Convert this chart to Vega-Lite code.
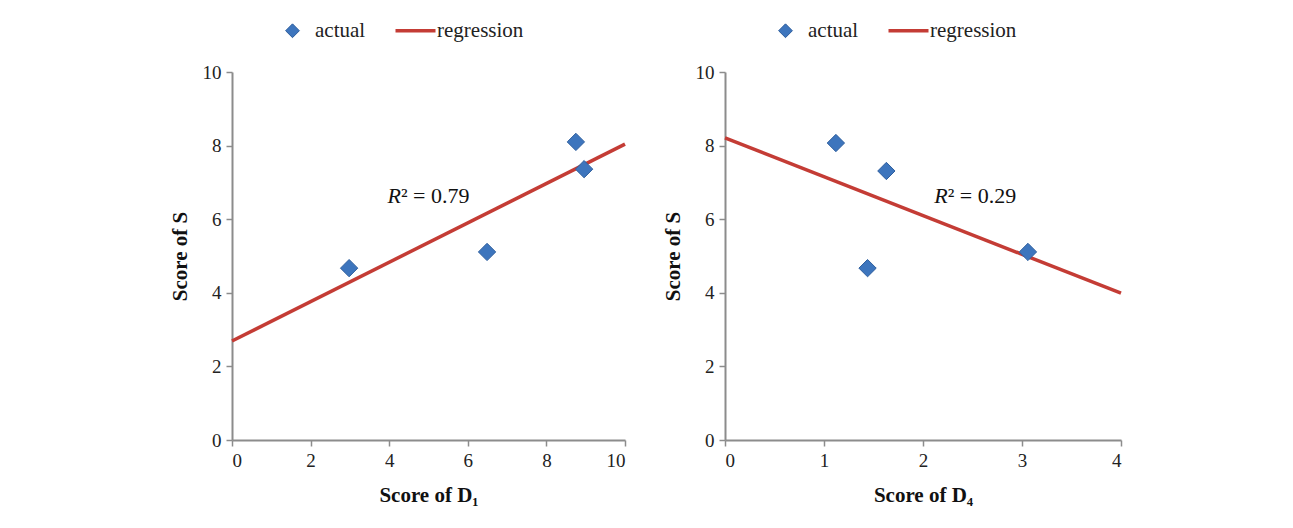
{
  "$schema": "https://vega.github.io/schema/vega-lite/v6.json",
  "background": "white",
  "padding": {"left": 169, "top": 20, "right": 10, "bottom": 10},
  "spacing": 30,
  "config": {
    "font": "Liberation Serif",
    "view": {"stroke": null},
    "axis": {
      "grid": false,
      "domainColor": "#8c8c8c",
      "domainWidth": 2,
      "tickColor": "#8c8c8c",
      "tickWidth": 1.5,
      "tickSize": 6,
      "labelFont": "Liberation Serif",
      "labelFontSize": 19,
      "labelColor": "#222222",
      "labelPadding": 5,
      "titleFont": "Liberation Serif",
      "titleFontSize": 21,
      "titleFontWeight": "bold",
      "titleColor": "#111111"
    },
    "legend": {
      "orient": "none",
      "legendX": 50,
      "legendY": -52,
      "direction": "horizontal",
      "labelFont": "Liberation Serif",
      "labelFontSize": 21,
      "labelColor": "#222222",
      "labelOffset": 2,
      "columnPadding": 22,
      "padding": 0
    }
  },
  "resolve": {
    "scale": {"x": "independent", "y": "independent", "fill": "independent", "stroke": "independent", "shape": "independent"},
    "legend": {"fill": "independent", "stroke": "independent", "shape": "independent"}
  },
  "hconcat": [
    {
      "width": 393,
      "height": 368,
      "data": {"values": [
        {"series": "actual", "x": 2.98, "y": 4.67},
        {"series": "actual", "x": 6.49, "y": 5.11},
        {"series": "actual", "x": 8.75, "y": 8.1},
        {"series": "actual", "x": 8.96, "y": 7.36},
        {"series": "regression", "x": 0, "y": 2.69},
        {"series": "regression", "x": 10, "y": 8.04},
        {"series": "r2", "x": 4.3, "y": 6.63, "p1": "R", "p2": "² = 0.79"}
      ]},
      "layer": [
        {
          "transform": [{"filter": "datum.series == 'regression'"}],
          "mark": {"type": "line", "strokeWidth": 3.5},
          "encoding": {
            "x": {"field": "x", "type": "quantitative", "scale": {"domain": [0, 10]}, "axis": {"values": [0, 2, 4, 6, 8, 10], "format": "d", "title": "Score of D₁", "titlePadding": 14}},
            "y": {"field": "y", "type": "quantitative", "scale": {"domain": [0, 10]}, "axis": {"values": [0, 2, 4, 6, 8, 10], "format": "d", "title": "Score of S", "titlePadding": 12}},
            "stroke": {"field": "series", "type": "nominal", "scale": {"domain": ["actual", "regression"], "range": ["#2f5f9e", "#c43c35"]},
              "legend": {"title": null, "encode": {
                "symbols": {"update": {"size": {"signal": "datum.value == 'regression' ? 1600 : 190"}, "strokeWidth": {"signal": "datum.value == 'regression' ? 3.5 : 1"}}},
                "labels": {"update": {"dx": {"signal": "datum.value == 'regression' ? 9 : 10"}}}
              }}}
          }
        },
        {
          "transform": [{"filter": "datum.series == 'actual'"}],
          "mark": {"type": "point", "filled": true, "size": 300, "strokeWidth": 1, "opacity": 1},
          "encoding": {
            "x": {"field": "x", "type": "quantitative"},
            "y": {"field": "y", "type": "quantitative"},
            "fill": {"field": "series", "type": "nominal", "scale": {"domain": ["actual", "regression"], "range": ["#3d75bd", "#c43c35"]}, "legend": {"title": null}},
            "stroke": {"field": "series", "type": "nominal"},
            "shape": {"field": "series", "type": "nominal", "scale": {"domain": ["actual", "regression"], "range": ["diamond", "stroke"]}, "legend": {"title": null}}
          }
        },
        {
          "transform": [{"filter": "datum.series == 'r2'"}],
          "mark": {"type": "text", "align": "right", "baseline": "middle", "fontStyle": "italic", "fontSize": 22, "color": "#111111"},
          "encoding": {"x": {"field": "x", "type": "quantitative"}, "y": {"field": "y", "type": "quantitative"}, "text": {"field": "p1"}}
        },
        {
          "transform": [{"filter": "datum.series == 'r2'"}],
          "mark": {"type": "text", "align": "left", "baseline": "middle", "fontSize": 22, "color": "#111111"},
          "encoding": {"x": {"field": "x", "type": "quantitative"}, "y": {"field": "y", "type": "quantitative"}, "text": {"field": "p2"}}
        }
      ]
    },
    {
      "width": 396,
      "height": 368,
      "data": {"values": [
        {"series": "actual", "x": 1.12, "y": 8.07},
        {"series": "actual", "x": 1.63, "y": 7.31},
        {"series": "actual", "x": 1.44, "y": 4.67},
        {"series": "actual", "x": 3.06, "y": 5.11},
        {"series": "regression", "x": 0, "y": 8.21},
        {"series": "regression", "x": 4, "y": 3.99},
        {"series": "r2", "x": 2.25, "y": 6.63, "p1": "R", "p2": "² = 0.29"}
      ]},
      "layer": [
        {
          "transform": [{"filter": "datum.series == 'regression'"}],
          "mark": {"type": "line", "strokeWidth": 3.5},
          "encoding": {
            "x": {"field": "x", "type": "quantitative", "scale": {"domain": [0, 4]}, "axis": {"values": [0, 1, 2, 3, 4], "format": "d", "title": "Score of D₄", "titlePadding": 14}},
            "y": {"field": "y", "type": "quantitative", "scale": {"domain": [0, 10]}, "axis": {"values": [0, 2, 4, 6, 8, 10], "format": "d", "title": "Score of S", "titlePadding": 12}},
            "stroke": {"field": "series", "type": "nominal", "scale": {"domain": ["actual", "regression"], "range": ["#2f5f9e", "#c43c35"]},
              "legend": {"title": null, "encode": {
                "symbols": {"update": {"size": {"signal": "datum.value == 'regression' ? 1600 : 190"}, "strokeWidth": {"signal": "datum.value == 'regression' ? 3.5 : 1"}}},
                "labels": {"update": {"dx": {"signal": "datum.value == 'regression' ? 9 : 10"}}}
              }}}
          }
        },
        {
          "transform": [{"filter": "datum.series == 'actual'"}],
          "mark": {"type": "point", "filled": true, "size": 300, "strokeWidth": 1, "opacity": 1},
          "encoding": {
            "x": {"field": "x", "type": "quantitative"},
            "y": {"field": "y", "type": "quantitative"},
            "fill": {"field": "series", "type": "nominal", "scale": {"domain": ["actual", "regression"], "range": ["#3d75bd", "#c43c35"]}, "legend": {"title": null}},
            "stroke": {"field": "series", "type": "nominal"},
            "shape": {"field": "series", "type": "nominal", "scale": {"domain": ["actual", "regression"], "range": ["diamond", "stroke"]}, "legend": {"title": null}}
          }
        },
        {
          "transform": [{"filter": "datum.series == 'r2'"}],
          "mark": {"type": "text", "align": "right", "baseline": "middle", "fontStyle": "italic", "fontSize": 22, "color": "#111111"},
          "encoding": {"x": {"field": "x", "type": "quantitative"}, "y": {"field": "y", "type": "quantitative"}, "text": {"field": "p1"}}
        },
        {
          "transform": [{"filter": "datum.series == 'r2'"}],
          "mark": {"type": "text", "align": "left", "baseline": "middle", "fontSize": 22, "color": "#111111"},
          "encoding": {"x": {"field": "x", "type": "quantitative"}, "y": {"field": "y", "type": "quantitative"}, "text": {"field": "p2"}}
        }
      ]
    }
  ]
}
